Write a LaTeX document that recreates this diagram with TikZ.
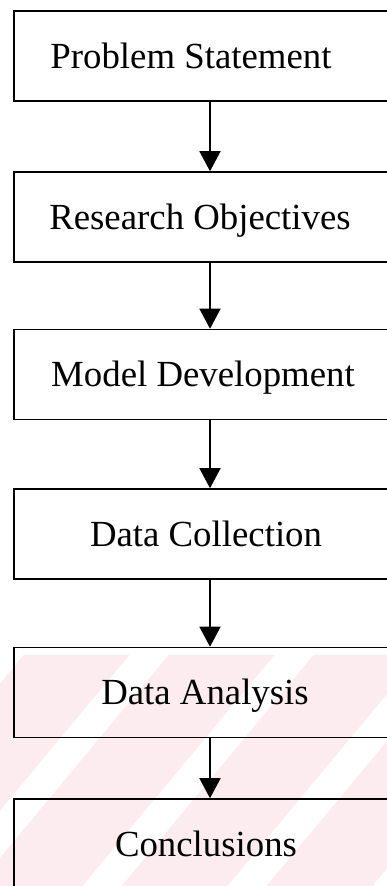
\documentclass[tikz,border=0pt]{standalone}
\usepackage{fontspec}
\setmainfont{Liberation Serif}
\usetikzlibrary{arrows.meta}
\definecolor{wmpink}{RGB}{252,235,239}
\tikzset{
  stepbox/.style={draw, line width=1.6pt, minimum width=392pt, minimum height=90pt, inner sep=0pt},
  steptext/.style={font=\fontsize{36.8}{44}\selectfont, text height=24.3pt, text depth=0pt, inner sep=0pt},
  flow/.style={line width=1.6pt, -{Triangle[length=20pt,width=21pt]}},
}
\begin{document}
\begin{tikzpicture}[x=1pt,y=1pt]
  \useasboundingbox (0,0) rectangle (387,-886);
  \clip (0,0) rectangle (387,-886);
  % pink band with white stripes at the bottom
  \fill[wmpink] (0,-655) rectangle (387,-886);
  \begin{scope}
    \clip (0,-655) rectangle (387,-886);
    \foreach \x in {-188,-43,...,392}
      \draw[white, line width=30pt, shorten <=-30pt, shorten >=-30pt] (\x,-886) -- ++(192,231);
  \end{scope}
  % the steps
  \foreach \n/\y/\dx/\txt in {ps/56/-19/Problem Statement, ro/217/-10/Research Objectives,
      md/374.5/-7/Model Development, dc/534/-4/Data Collection,
      da/692.5/-5/Data Analysis, cn/844/-4/Conclusions}
  {
    \node[stepbox] (\n) at (210,-\y) {};
    \node[steptext] (\n-txt) at ([xshift=\dx pt]\n.center) {\txt};
  }
  \foreach \a/\b in {ps/ro,ro/md,md/dc,dc/da,da/cn}
    \draw[flow] (\a) -- (\b);
\end{tikzpicture}
\end{document}
